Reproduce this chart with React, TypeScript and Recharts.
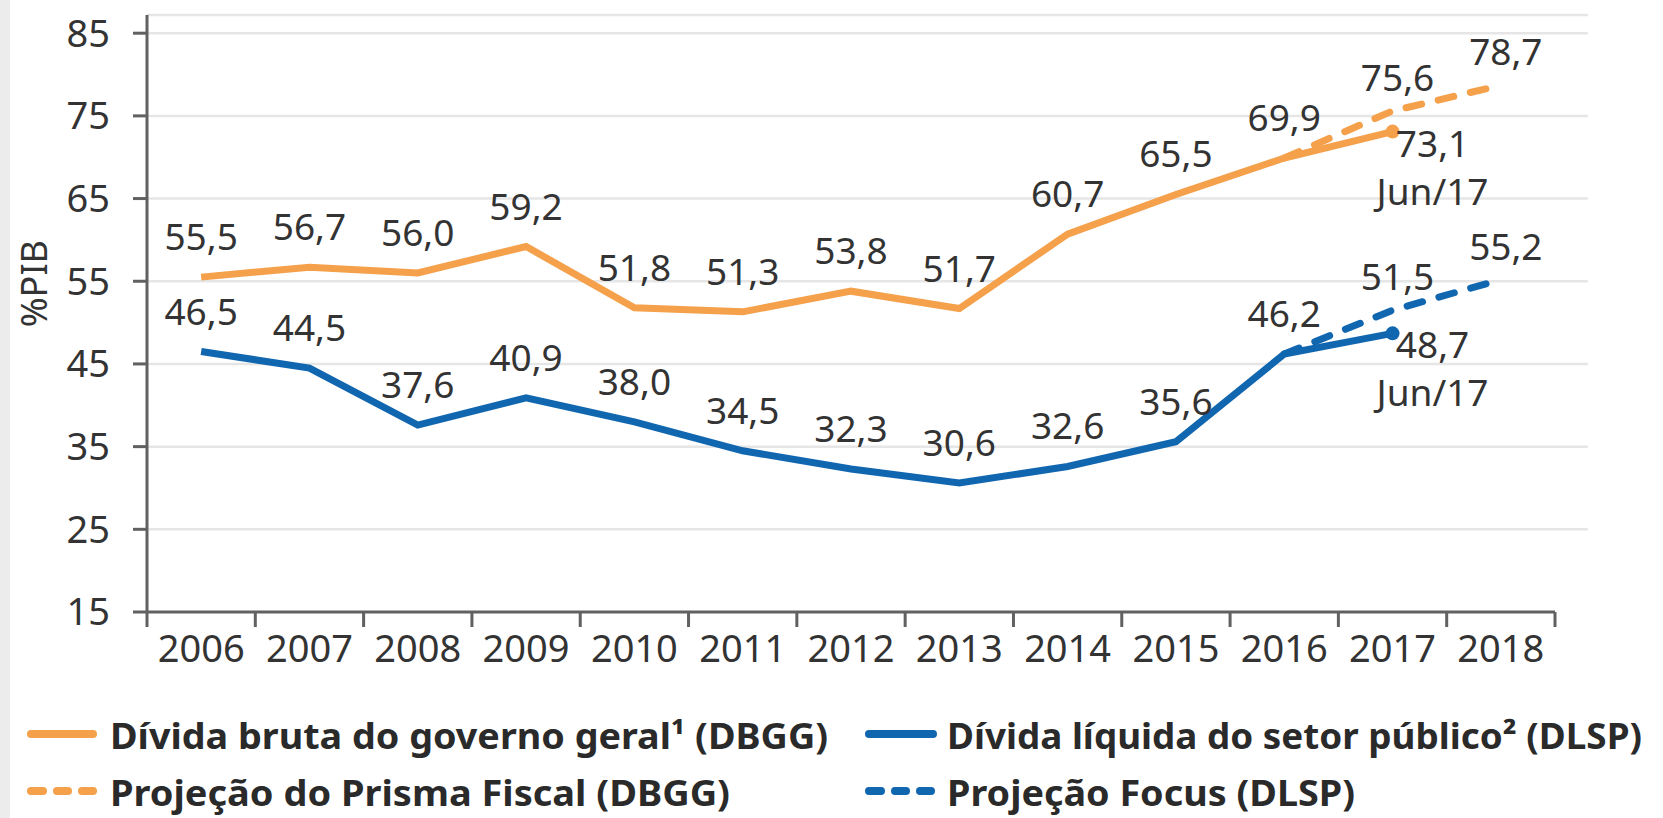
import React from "react";
import { LineChart, Line, XAxis, YAxis, CartesianGrid, LabelList, Legend } from "recharts";

const years = ["2006", "2007", "2008", "2009", "2010", "2011", "2012", "2013", "2014", "2015", "2016", "2017", "2018"];
const dividaBruta = [55.5, 56.7, 56.0, 59.2, 51.8, 51.3, 53.8, 51.7, 60.7, 65.5, 69.9, 73.1, null];
const dividaLiquida = [46.5, 44.5, 37.6, 40.9, 38.0, 34.5, 32.3, 30.6, 32.6, 35.6, 46.2, 48.7, null];
const prismaFiscal = [null, null, null, null, null, null, null, null, null, null, 69.9, 75.6, 78.7];
const projecaoFocus = [null, null, null, null, null, null, null, null, null, null, 46.2, 51.5, 55.2];
const yTicks = [15, 25, 35, 45, 55, 65, 75, 85];

const ORANGE = "#F5A04B";
const BLUE = "#1166B0";
const TEXT = "#333333";
const AXIS = "#616161";
const GRID = "#e6e6e6";
const FONT = '"Noto Sans", "Open Sans", sans-serif';
const LAST = 11; // Jun/17 point

const W = 1663;
const H = 818;
const Y_AXIS_W = 147;
const RIGHT = 108;
const HALF = (W - Y_AXIS_W - RIGHT) / years.length / 2;

const data = years.map((year, i) => ({
  year,
  dbgg: dividaBruta[i],
  dlsp: dividaLiquida[i],
  prisma: prismaFiscal[i],
  focus: projecaoFocus[i],
}));

const fmt = (v: number) => v.toFixed(1).replace(".", ",");

function mainLabel(props: any) {
  const { x, y, value, index } = props;
  if (value == null) return null;
  if (index === LAST) {
    return (
      <g>
        <text x={x + 40} y={y + 25} textAnchor="middle" fontSize={37} fill={TEXT} fontFamily={FONT}>
          {fmt(value)}
        </text>
        <text x={x + 40} y={y + 73} textAnchor="middle" fontSize={37} fill={TEXT} fontFamily={FONT}>
          Jun/17
        </text>
      </g>
    );
  }
  return (
    <text x={x} y={y - 27} textAnchor="middle" fontSize={37} fill={TEXT} fontFamily={FONT}>
      {fmt(value)}
    </text>
  );
}

function projLabel(props: any) {
  const { x, y, value, index } = props;
  if (value == null || index <= 10) return null;
  return (
    <text x={x + 5} y={y - 20} textAnchor="middle" fontSize={37} fill={TEXT} fontFamily={FONT}>
      {fmt(value)}
    </text>
  );
}

const endDot = (color: string) => (props: any) => {
  const { cx, cy, index } = props;
  if (index !== LAST || cy == null) return <g key={`d-${index}`} />;
  return <circle key={`d-${index}`} cx={cx} cy={cy} r={7} fill={color} />;
};

function YearTick(props: any) {
  const { x, y, payload } = props;
  const half = payload.offset || HALF;
  const isLast = payload.value === years[years.length - 1];
  return (
    <g>
      <line x1={x - half} x2={x - half} y1={y} y2={y + 15} stroke={AXIS} strokeWidth={3} />
      {isLast && <line x1={x + half} x2={x + half} y1={y} y2={y + 15} stroke={AXIS} strokeWidth={3} />}
      <text x={x} y={y + 50} textAnchor="middle" fontSize={38} fill={TEXT} fontFamily={FONT}>
        {payload.value}
      </text>
    </g>
  );
}

function YLabel(props: any) {
  const vb = props.viewBox || { x: 0, y: 15, height: 597 };
  const bx = vb.x + 47;
  const cy = vb.y + vb.height * 0.45;
  return (
    <text
      x={bx}
      y={cy}
      transform={`rotate(-90, ${bx}, ${cy})`}
      textAnchor="middle"
      fontSize={36}
      fill={TEXT}
      fontFamily={FONT}
    >
      %PIB
    </text>
  );
}

const gridLine = (p: any) => {
  if (Math.abs(p.y1 - (p.y + p.height)) < 1) return <g key={p.key} />;
  return <line key={p.key} x1={p.x1} y1={p.y1} x2={p.x2 + 33} y2={p.y2} stroke={GRID} strokeWidth={2.5} />;
};

function LegendSvg() {
  const txt = { fontSize: 35, fontWeight: 700, fill: "#2a2a2a", fontFamily: FONT, lengthAdjust: "spacingAndGlyphs" } as any;
  const dashes = (x0: number, y: number, color: string) => (
    <g stroke={color} strokeWidth={8} strokeLinecap="round">
      <line x1={x0 + 4} x2={x0 + 16} y1={y} y2={y} />
      <line x1={x0 + 30} x2={x0 + 41} y1={y} y2={y} />
      <line x1={x0 + 55} x2={x0 + 66} y1={y} y2={y} />
    </g>
  );
  return (
    <svg width={W} height={110} style={{ display: "block" }}>
      <line x1={31} x2={93} y1={26} y2={26} stroke={ORANGE} strokeWidth={8} strokeLinecap="round" />
      <text x={110} y={41} textLength={718} {...txt}>Dívida bruta do governo geral¹ (DBGG)</text>
      <line x1={869} x2={933} y1={26} y2={26} stroke={BLUE} strokeWidth={8} strokeLinecap="round" />
      <text x={947} y={41} textLength={695} {...txt}>Dívida líquida do setor público² (DLSP)</text>
      {dashes(27, 83, ORANGE)}
      <text x={110} y={98} textLength={620} {...txt}>Projeção do Prisma Fiscal (DBGG)</text>
      {dashes(865, 83, BLUE)}
      <text x={947} y={98} textLength={408} {...txt}>Projeção Focus (DLSP)</text>
    </svg>
  );
}

export default function App() {
  return (
    <div style={{ position: "absolute", top: 0, left: 0, width: W, height: H, background: "#ffffff", fontFamily: FONT }}>
      <div style={{ position: "absolute", top: 0, left: 0, width: 10, height: H, background: "#ececec" }} />
      <LineChart width={W} height={H} data={data} margin={{ top: 15, right: RIGHT, left: 0, bottom: 36 }}>
        <CartesianGrid vertical={false} horizontal={gridLine} />
        <XAxis
          dataKey="year"
          height={60}
          interval={0}
          padding={{ left: HALF, right: HALF }}
          tickLine={false}
          tickSize={0}
          tickMargin={0}
          axisLine={{ stroke: AXIS, strokeWidth: 3 }}
          tick={<YearTick />}
        />
        <YAxis
          type="number"
          width={Y_AXIS_W}
          domain={[15, 87.2]}
          ticks={yTicks}
          interval={0}
          tickSize={14}
          tickMargin={23}
          axisLine={{ stroke: AXIS, strokeWidth: 3 }}
          tickLine={{ stroke: AXIS, strokeWidth: 3 }}
          tick={{ fontSize: 38, fill: TEXT, fontFamily: FONT }}
          label={<YLabel />}
        />
        <Legend
          verticalAlign="bottom"
          align="left"
          wrapperStyle={{ left: 0, bottom: 0, width: W, height: 110 }}
          content={() => <LegendSvg />}
        />
        <Line
          dataKey="prisma"
          stroke={ORANGE}
          strokeWidth={7}
          strokeDasharray="16 17"
          strokeLinecap="round"
          dot={false}
          activeDot={false}
          isAnimationActive={false}
        >
          <LabelList dataKey="prisma" content={projLabel} />
        </Line>
        <Line
          dataKey="focus"
          stroke={BLUE}
          strokeWidth={7}
          strokeDasharray="16 17"
          strokeLinecap="round"
          dot={false}
          activeDot={false}
          isAnimationActive={false}
        >
          <LabelList dataKey="focus" content={projLabel} />
        </Line>
        <Line
          dataKey="dbgg"
          stroke={ORANGE}
          strokeWidth={7}
          dot={endDot(ORANGE)}
          activeDot={false}
          isAnimationActive={false}
        >
          <LabelList dataKey="dbgg" content={mainLabel} />
        </Line>
        <Line
          dataKey="dlsp"
          stroke={BLUE}
          strokeWidth={7}
          dot={endDot(BLUE)}
          activeDot={false}
          isAnimationActive={false}
        >
          <LabelList dataKey="dlsp" content={mainLabel} />
        </Line>
      </LineChart>
    </div>
  );
}
